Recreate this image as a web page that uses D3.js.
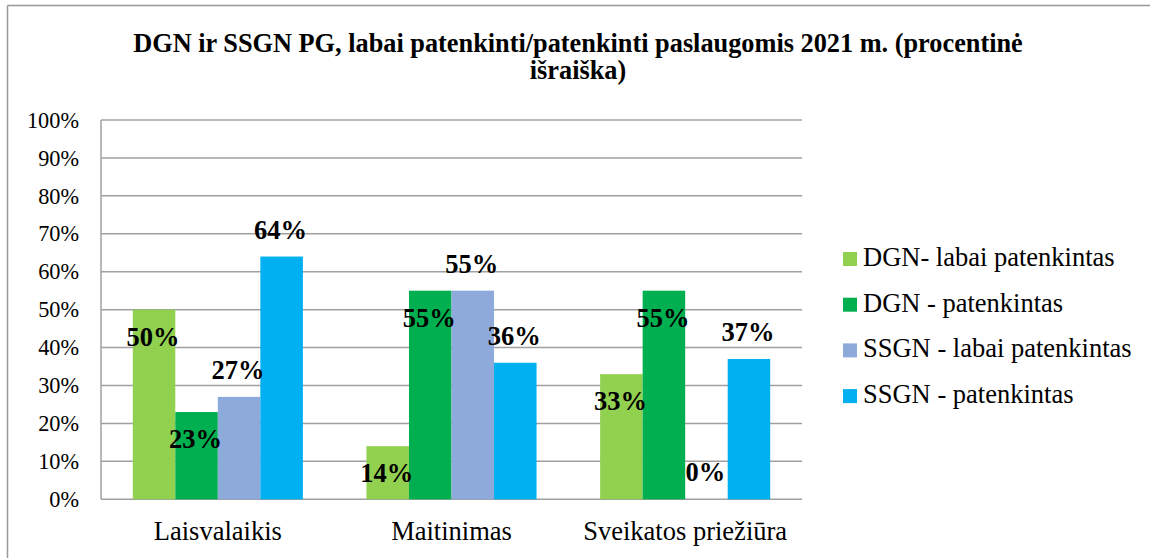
<!DOCTYPE html>
<html><head><meta charset="utf-8">
<script src="https://cdn.jsdelivr.net/npm/d3@7"></script>
<style>
html,body{margin:0;padding:0;background:#fff;}
svg{display:block;}
svg text{font-family:"Liberation Serif","Times New Roman",Tinos,"DejaVu Serif","Noto Serif",serif;}
</style></head>
<body>
<svg id="chart" width="1150" height="558"></svg>
<script>
const titleLines = ["DGN ir SSGN PG, labai patenkinti/patenkinti paslaugomis 2021 m. (procentinė", "išraiška)"];
const categories = ["Laisvalaikis", "Maitinimas", "Sveikatos priežiūra"];
const seriesNames = ["DGN- labai patenkintas", "DGN - patenkintas", "SSGN - labai patenkintas", "SSGN - patenkintas"];
const dgnLabai = [0.50, 0.14, 0.33];
const dgnPatenkintas = [0.23, 0.55, 0.55];
const ssgnLabai = [0.27, 0.55, 0.00];
const ssgnPatenkintas = [0.64, 0.36, 0.37];
const yTicks = [0, 0.1, 0.2, 0.3, 0.4, 0.5, 0.6, 0.7, 0.8, 0.9, 1.0];

const seriesValues = [dgnLabai, dgnPatenkintas, ssgnLabai, ssgnPatenkintas];
const colors = ["#92d050", "#00b050", "#8eaadb", "#00b0f0"];
const FONT = '"Liberation Serif","Times New Roman",Tinos,"DejaVu Serif","Noto Serif",serif';

const svg = d3.select("#chart");
const plot = {left: 101, right: 802, top: 120, bottom: 499.3};

svg.append("line").attr("x1", 7.5).attr("x2", 1150).attr("y1", 5.5).attr("y2", 5.5)
  .attr("stroke", "#999").attr("stroke-width", 1.5);
svg.append("line").attr("x1", 7.5).attr("x2", 7.5).attr("y1", 5.5).attr("y2", 558)
  .attr("stroke", "#999").attr("stroke-width", 1.5);

svg.append("g").selectAll("text").data(titleLines).join("text")
  .attr("x", 578).attr("y", (d, i) => 52 + i * 27)
  .attr("text-anchor", "middle").attr("font-weight", "bold").attr("font-size", 26.3)
  .attr("font-family", FONT)
  .text(d => d);

const y = d3.scaleLinear().domain([0, 1]).range([plot.bottom, plot.top]);
const x0 = d3.scaleBand().domain(categories).range([plot.left, plot.right]).padding(0);
const step = x0.bandwidth();
const groupW = step * 0.728;
const x1 = d3.scaleBand().domain(d3.range(seriesNames.length))
  .range([(step - groupW) / 2, (step + groupW) / 2]).padding(0);

svg.append("g").selectAll("line").data(yTicks).join("line")
  .attr("x1", plot.left).attr("x2", plot.right)
  .attr("y1", d => y(d)).attr("y2", d => y(d))
  .attr("stroke", "#a0a0a0").attr("stroke-width", 1.5);
svg.append("line").attr("x1", plot.left).attr("x2", plot.left)
  .attr("y1", plot.top).attr("y2", plot.bottom)
  .attr("stroke", "#a0a0a0").attr("stroke-width", 1.5);

const yAxis = d3.axisLeft(y).tickValues(yTicks).tickFormat(d3.format(".0%")).tickSize(0).tickPadding(0);
const gy = svg.append("g").attr("transform", `translate(79,0)`).call(yAxis);
gy.select(".domain").remove();
gy.attr("font-family", FONT);
gy.selectAll("text").attr("font-family", FONT).attr("font-size", 22.3).attr("fill", "#000");

const flat = [];
categories.forEach((c, ci) => seriesValues.forEach((arr, si) => flat.push({c, si, v: arr[ci]})));
svg.append("g").selectAll("rect").data(flat).join("rect")
  .attr("x", d => x0(d.c) + x1(d.si))
  .attr("y", d => y(d.v))
  .attr("width", x1.bandwidth())
  .attr("height", d => y(0) - y(d.v))
  .attr("fill", d => colors[d.si]);

svg.append("g").selectAll("text").data(flat).join("text")
  .attr("x", d => x0(d.c) + x1(d.si) + x1.bandwidth() / 2 - 1)
  .attr("y", d => d.si < 2 ? y(d.v) + 36 : y(d.v) - 18)
  .attr("text-anchor", "middle").attr("font-weight", "bold").attr("font-size", 26.5)
  .attr("font-family", FONT)
  .text(d => d3.format(".0%")(d.v));

const xAxis = d3.axisBottom(x0).tickSize(0).tickPadding(0);
const gx = svg.append("g").attr("transform", `translate(0,${plot.bottom})`).call(xAxis);
gx.select(".domain").remove();
gx.attr("font-family", FONT);
gx.selectAll("text").attr("font-family", FONT).attr("font-size", 26.5).attr("fill", "#000")
  .attr("dy", null).attr("y", 41);

const leg = svg.append("g").selectAll("g").data(seriesNames).join("g")
  .attr("transform", (d, i) => `translate(843,${266 + i * 45.7})`);
leg.append("rect").attr("x", 0).attr("y", -14).attr("width", 14).attr("height", 14)
  .attr("fill", (d, i) => colors[i]);
leg.append("text").attr("x", 20).attr("y", 0).attr("font-size", 26.5).attr("font-family", FONT).text(d => d);
</script>
</body></html>
